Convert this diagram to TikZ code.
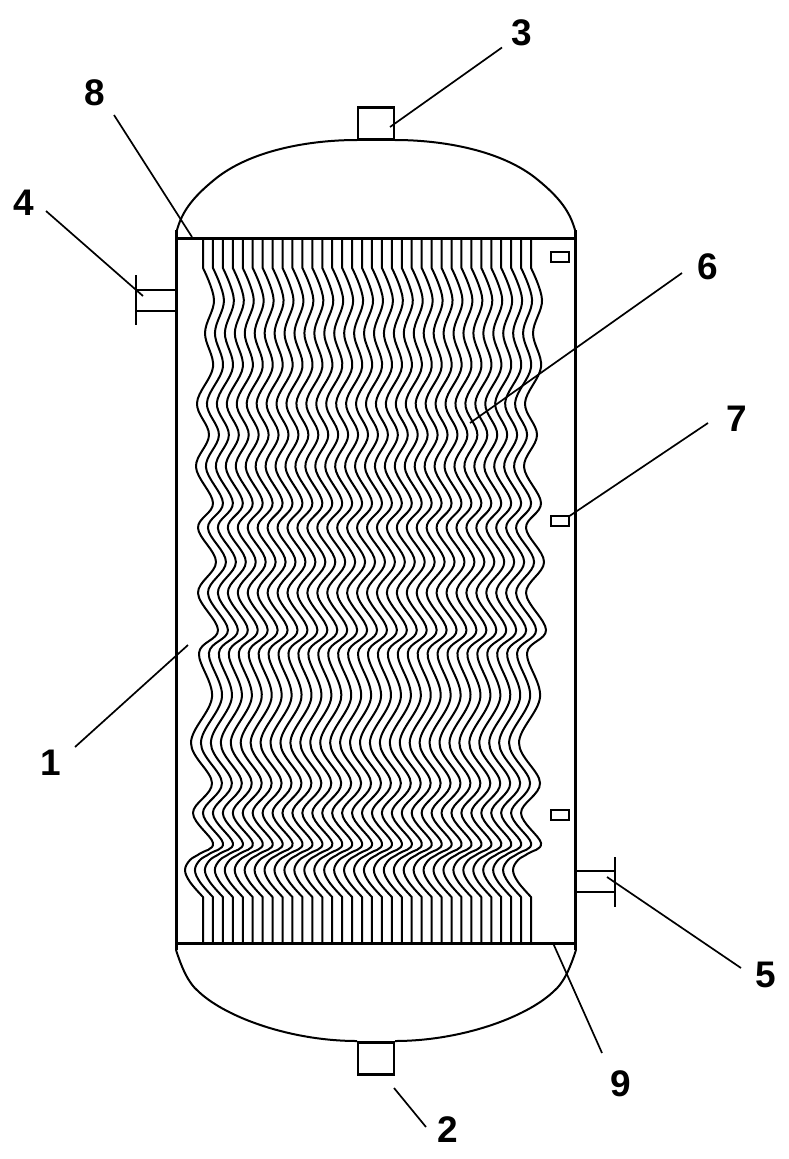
\documentclass[tikz,border=0pt]{standalone}
\usepackage{fontspec}
\setmainfont{Liberation Sans}
\usepackage{tikz}
\usetikzlibrary{positioning}

\begin{document}
\begin{tikzpicture}[x=1pt,y=-1pt,
wall/.style={line width=3pt},
thinwall/.style={line width=2pt},
tube/.style={line width=2pt,line join=round},
leader/.style={line width=1.7pt},
num/.style={font=\fontsize{37}{37}\selectfont\bfseries,inner sep=0pt},
nozzle/.style={draw,line width=2.2pt,minimum width=36pt,minimum height=32pt,inner sep=0pt,outer sep=0pt},
sensor/.style={draw,line width=2pt,minimum width=18pt,minimum height=10pt,inner sep=0pt,outer sep=0pt}]

\useasboundingbox (0,0) rectangle (788,1159);

% shell
\draw [wall] (176.5,230) -- (176.5,950);
\draw [wall] (575.5,230) -- (575.5,950);
\draw [wall] (176,238) -- (576,238);
\draw [wall] (176,943) -- (576,943);

% heads
\draw [thinwall] (177,230) .. controls (182,212) and (192,198) .. (214,180) .. controls (250,150) and (310,140) .. (357,140);
\draw [thinwall] (575,230) .. controls (570,212) and (560,198) .. (538,180) .. controls (502,150) and (442,140) .. (395,140);
\draw [thinwall] (176,950) .. controls (181,965) and (187,982) .. (199,992) .. controls (227,1018) and (292,1041) .. (357,1041);
\draw [thinwall] (576,950) .. controls (571,965) and (565,982) .. (553,992) .. controls (525,1018) and (460,1041) .. (395,1041);

\node [nozzle] (top) at (376,123.5) {};
\node [nozzle] (bottom) at (376,1058.5) {};

% side pipes
\draw [thinwall] (136,290) -- (176,290);
\draw [thinwall] (136,311) -- (176,311);
\draw [thinwall] (136,275) -- (136,325);
\draw [thinwall] (576,871) -- (615,871);
\draw [thinwall] (576,892) -- (615,892);
\draw [thinwall] (615,857) -- (615,907);

% tubes
\foreach \i in {0,...,33}
{
\draw [tube,xshift=\i*9.94pt] (203,238) -- (203,268) -- plot [smooth,tension=0.6] coordinates {(203,268) (214,300) (205,333) (213,367) (197,403) (209,435) (196,467) (213,503) (198,528) (216,562) (198,593) (218,630) (199,653) (212,697) (191,743) (212,783) (193,813) (213,843) (200,853.5) (190,860) (185,870) (190,882) (203,897)} -- (203,943);
}

\node [sensor] (s1) at (560,257) {};
\node [sensor] (s2) at (560,521) {};
\node [sensor] (s3) at (560,814.5) {};

\node [num] (n1) at (51,763) {1};
\node [num] (n2) at (448,1130) {2};
\node [num] (n3) at (522,33) {3};
\node [num] (n4) at (24,203) {4};
\node [num] (n5) at (766,975) {5};
\node [num] (n6) at (708,267) {6};
\node [num] (n7) at (737,419) {7};
\node [num] (n8) at (95,93) {8};
\node [num] (n9) at (621,1084) {9};

\coordinate (tip1) at (188,645);
\coordinate (tip2) at (394,1088);
\coordinate (tip3) at (390,127);
\coordinate (tip4) at (143,296);
\coordinate (tip5) at (607,877);
\coordinate (tip6) at (470,423);
\coordinate (tip7) at (568,517);
\coordinate (tip8) at (192,237);
\coordinate (tip9) at (553,943);

\draw [leader] (tip1) -- ([shift={(24,-16)}]n1.center);
\draw [leader] (tip2) -- ([shift={(-22,-3)}]n2.center);
\draw [leader] (tip3) -- ([shift={(-20,14.5)}]n3.center);
\draw [leader] (tip4) -- ([shift={(22,8)}]n4.center);
\draw [leader] (tip5) -- ([shift={(-25,-7)}]n5.center);
\draw [leader] (tip6) -- ([shift={(-26,6)}]n6.center);
\draw [leader] (tip7) -- ([shift={(-29,4)}]n7.center);
\draw [leader] (tip8) -- ([shift={(19,22)}]n8.center);
\draw [leader] (tip9) -- ([shift={(-19,-31)}]n9.center);
\end{tikzpicture}
\end{document}
